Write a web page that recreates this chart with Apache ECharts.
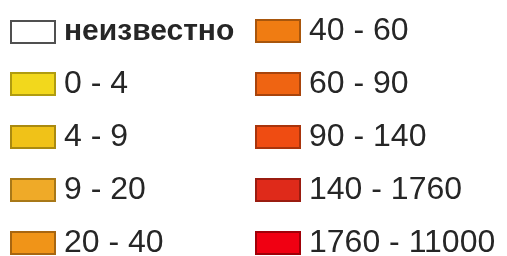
<!DOCTYPE html>
<html>
<head>
<meta charset="utf-8">
<script src="https://cdn.jsdelivr.net/npm/echarts@6/dist/echarts.min.js"></script>
<style>
html, body { margin: 0; padding: 0; background: #fff; }
#chart { width: 507px; height: 256px; }
</style>
</head>
<body>
<div id="chart"></div>
<script>
// legend classes (population ranges)
var labels = ['неизвестно', '0 - 4', '4 - 9', '9 - 20', '20 - 40',
              '40 - 60', '60 - 90', '90 - 140', '140 - 1760', '1760 - 11000'];
var fills = ['#ffffff', '#f2d81c', '#f0c218', '#efaa28', '#f09418',
             '#f07c12', '#ef6412', '#ef4c12', '#df2a1a', '#f00012'];
var borders = ['#505050', '#b09c10', '#aa8a10', '#a87818', '#a86610',
               '#a8560c', '#a8440c', '#a8340c', '#9a1c10', '#a00008'];

var leftCol = labels.slice(0, 5);
var rightCol = labels.slice(5);

var chart = echarts.init(document.getElementById('chart'));

var series = labels.map(function (name, i) {
    return {
        name: name,
        type: 'bar',
        data: [],
        itemStyle: {
            color: fills[i],
            borderColor: borders[i],
            borderWidth: 2
        }
    };
});

var legendBase = {
    orient: 'vertical',
    top: 15,
    height: 250,
    padding: 0,
    itemWidth: 44,
    itemHeight: 22,
    itemGap: 21,
    icon: 'rect',
    selectedMode: false,
    textStyle: {
        fontFamily: 'Liberation Sans',
        fontSize: 32,
        color: '#262626',
        padding: [0, 0, 0, 4]
    },
    formatter: function (name) {
        return name === 'неизвестно' ? '{b|' + name + '}' : name;
    }
};

var option = {
    animation: false,
    xAxis: {show: false},
    yAxis: {show: false},
    legend: [
        Object.assign({}, legendBase, {
            left: 10, top: 17, data: leftCol,
            textStyle: Object.assign({}, legendBase.textStyle, {
                rich: {b: {fontFamily: 'Liberation Sans', fontSize: 30, fontWeight: 'bold',
                           color: '#262626'}}
            })
        }),
        Object.assign({}, legendBase, {left: 255, data: rightCol})
    ],
    series: series
};

chart.setOption(option);
</script>
</body>
</html>
